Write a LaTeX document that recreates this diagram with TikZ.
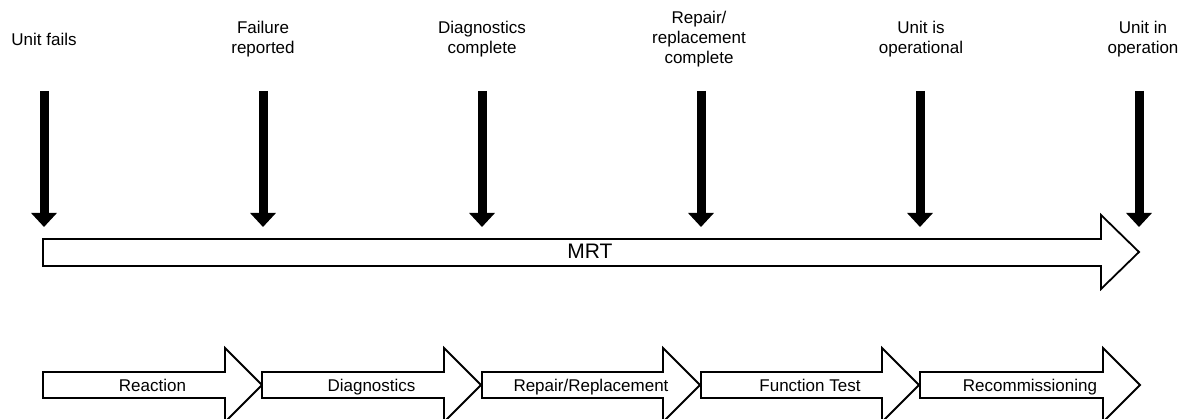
\documentclass[tikz,border=0pt]{standalone}
\usepackage{fontspec}
\setmainfont{Liberation Sans}
\usetikzlibrary{arrows.meta}
\begin{document}
\begin{tikzpicture}[x=1pt,y=-1pt,
  lbl/.style={align=center,font=\fontsize{17}{20}\selectfont,inner sep=0pt},
  evt/.style={line width=9pt,-{Triangle[width=25pt,length=14pt]}},
  blockarrow/.style={draw=black,line width=1.8pt,fill=white,line join=miter}]
\useasboundingbox (0,0) rectangle (1183,419);
\clip (0,0) rectangle (1183,419);
% event labels
\node[lbl] (l1) at (44,39) {Unit fails};
\node[lbl] (l2) at (263,39) {Failure\\reported};
\node[lbl] (l3) at (482,39) {Diagnostics\\complete};
\node[lbl] (l4) at (699,39) {Repair/\\replacement\\complete};
\node[lbl] (l5) at (921,39) {Unit is\\operational};
\node[lbl] (l6) at (1143,39) {Unit in\\operation};
% event arrows
\foreach \i/\x in {1/44,2/263,3/482,4/701,5/920,6/1139}{
  \coordinate (t\i) at (\x,91);
  \coordinate (b\i) at (\x,227);
  \draw[evt] (t\i) -- (b\i);
}
% MRT arrow
\draw[blockarrow] (43,239) -- (1101,239) -- (1101,215) -- (1139,252) -- (1101,289) -- (1101,266) -- (43,266) -- cycle;
\node[lbl,anchor=base,font=\fontsize{21}{24}\selectfont] (mrt) at (590,258.5) {MRT};
% phase arrows
\foreach \s/\t/\name/\txt in {43/262/p1/Reaction,262/481/p2/Diagnostics,482/700/p3/Repair\slash Replacement,701/919/p4/Function Test,920/1140/p5/Recommissioning}{
  \pgfmathsetmacro{\hb}{\t-37}
  \draw[blockarrow] (\s,372) -- (\hb,372) -- (\hb,348) -- (\t,385) -- (\hb,422) -- (\hb,398) -- (\s,398) -- cycle;
  \node[lbl,anchor=base] (\name) at ({(\s+\t)/2},391.5) {\txt};
}
\end{tikzpicture}
\end{document}
